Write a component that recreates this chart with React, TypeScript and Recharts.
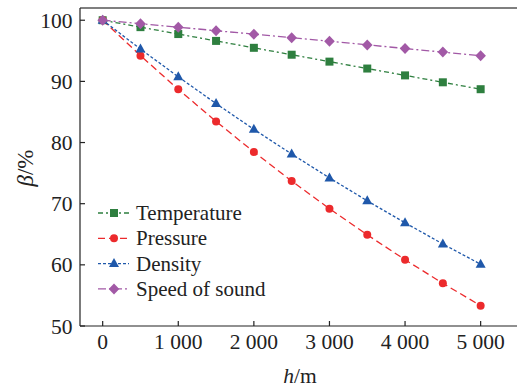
import React from "react";
import {
  LineChart,
  Line,
  XAxis,
  YAxis,
  Label,
  Legend,
  ReferenceLine,
} from "recharts";

// altitude, m
const heights = [0, 500, 1000, 1500, 2000, 2500, 3000, 3500, 4000, 4500, 5000];
// beta, % of sea-level value
const temperature = [100, 98.87, 97.74, 96.62, 95.49, 94.36, 93.23, 92.1, 90.98, 89.85, 88.72];
const pressure = [100, 94.21, 88.7, 83.45, 78.46, 73.71, 69.19, 64.91, 60.84, 56.98, 53.32];
const density = [100, 95.29, 90.75, 86.37, 82.16, 78.12, 74.22, 70.47, 66.88, 63.41, 60.1];
const speedOfSound = [100, 99.43, 98.87, 98.29, 97.72, 97.14, 96.56, 95.97, 95.38, 94.79, 94.19];

const xTicks = [0, 1000, 2000, 3000, 4000, 5000];
const yTicks = [50, 60, 70, 80, 90, 100];

const data = heights.map((h, i) => ({
  h,
  temperature: temperature[i],
  pressure: pressure[i],
  density: density[i],
  speed: speedOfSound[i],
}));

type Shape = "square" | "circle" | "triangle" | "diamond";

const series: { key: string; name: string; color: string; dash: string; shape: Shape }[] = [
  { key: "temperature", name: "Temperature", color: "#2E7F3F", dash: "5 3 2 3", shape: "square" },
  { key: "pressure", name: "Pressure", color: "#EC2A2C", dash: "7 4", shape: "circle" },
  { key: "density", name: "Density", color: "#1F58AA", dash: "3 2", shape: "triangle" },
  { key: "speed", name: "Speed of sound", color: "#A259A6", dash: "8 3 2 3", shape: "diamond" },
];

const FONT = "Liberation Serif, Times New Roman, serif";
const AXIS = "#222";
const txt = { fontFamily: FONT, fill: "#222" };

function Marker({ shape, cx, cy, color }: { shape: Shape; cx: number; cy: number; color: string }) {
  if (shape === "square") return <rect x={cx - 4} y={cy - 4} width={8} height={8} fill={color} />;
  if (shape === "circle") return <circle cx={cx} cy={cy} r={4} fill={color} />;
  if (shape === "triangle")
    return <polygon points={`${cx},${cy - 5.5} ${cx - 5},${cy + 3.5} ${cx + 5},${cy + 3.5}`} fill={color} />;
  return (
    <polygon
      points={`${cx},${cy - 5.5} ${cx + 5.3},${cy} ${cx},${cy + 5.5} ${cx - 5.3},${cy}`}
      fill={color}
    />
  );
}

const fmtThousands = (v: number) =>
  String(v).replace(/\B(?=(\d{3})+(?!\d))/g, "\u00a0");

function XTick(props: any) {
  const { x, y, payload } = props;
  return (
    <g>
      <line x1={x} x2={x} y1={y} y2={y - 5} stroke={AXIS} strokeWidth={1.2} />
      <text x={x} y={y + 23} textAnchor="middle" style={{ ...txt, fontSize: 21.5 }}>
        {fmtThousands(payload.value)}
      </text>
    </g>
  );
}

function YTick(props: any) {
  const { x, y, payload } = props;
  return (
    <g>
      <line x1={x} x2={x + 5} y1={y} y2={y} stroke={AXIS} strokeWidth={1.2} />
      <text x={x - 7.5} y={y + 7.5} textAnchor="end" style={{ ...txt, fontSize: 21.5 }}>
        {payload.value}
      </text>
    </g>
  );
}

function LegendBox() {
  return (
    <svg width={220} height={110} style={{ display: "block" }}>
      {series.map((s, i) => {
        const cy = 13 + i * 25.3;
        return (
          <g key={s.key}>
            <line x1={3} x2={34} y1={cy} y2={cy} stroke={s.color} strokeWidth={1.3} strokeDasharray={s.dash} />
            <Marker shape={s.shape} cx={19} cy={cy} color={s.color} />
            <text x={41} y={cy + 7} style={{ ...txt, fontSize: 21 }}>
              {s.name}
            </text>
          </g>
        );
      })}
    </svg>
  );
}

export default function App() {
  return (
    <div style={{ width: 517, height: 389, overflow: "hidden", fontFamily: FONT }}>
      <style>{`body{margin:0}`}</style>
      <LineChart width={530} height={389} data={data} margin={{ top: 8, right: 4, bottom: 0, left: 0 }}>
        <XAxis
          type="number"
          dataKey="h"
          domain={[-300, 5600]}
          ticks={xTicks}
          allowDataOverflow
          height={63}
          tickSize={0}
          tickMargin={0}
          tickLine={false}
          axisLine={{ stroke: AXIS, strokeWidth: 1.2 }}
          tick={<XTick />}
        >
          <Label
            content={() => (
              <text x={300} y={383} textAnchor="middle" style={{ ...txt, fontSize: 21.5 }}>
                <tspan fontStyle="italic">h</tspan>
                <tspan>/m</tspan>
              </text>
            )}
          />
        </XAxis>
        <YAxis
          type="number"
          domain={[50, 102]}
          ticks={yTicks}
          allowDataOverflow
          width={80}
          tickSize={0}
          tickMargin={0}
          tickLine={false}
          axisLine={{ stroke: AXIS, strokeWidth: 1.2 }}
          tick={<YTick />}
        >
          <Label
            content={() => (
              <text
                x={33}
                y={168}
                transform="rotate(-90 33 168)"
                textAnchor="middle"
                style={{ ...txt, fontSize: 23 }}
              >
                <tspan fontStyle="italic">β</tspan>
                <tspan>/%</tspan>
              </text>
            )}
          />
        </YAxis>
        <ReferenceLine y={102} stroke="#555" strokeWidth={1.6} />
        {series.map((s) => (
          <Line
            key={s.key}
            dataKey={s.key}
            name={s.name}
            type="linear"
            stroke={s.color}
            strokeWidth={1.3}
            strokeDasharray={s.dash}
            isAnimationActive={false}
            activeDot={false}
            dot={(p: any) => (
              <Marker key={`${s.key}-${p.index}`} shape={s.shape} cx={p.cx} cy={p.cy} color={s.color} />
            )}
          />
        ))}
        <Legend
          layout="vertical"
          align="center"
          verticalAlign="middle"
          wrapperStyle={{ left: 95, top: 200, width: 220 }}
          content={() => <LegendBox />}
        />
      </LineChart>
    </div>
  );
}
